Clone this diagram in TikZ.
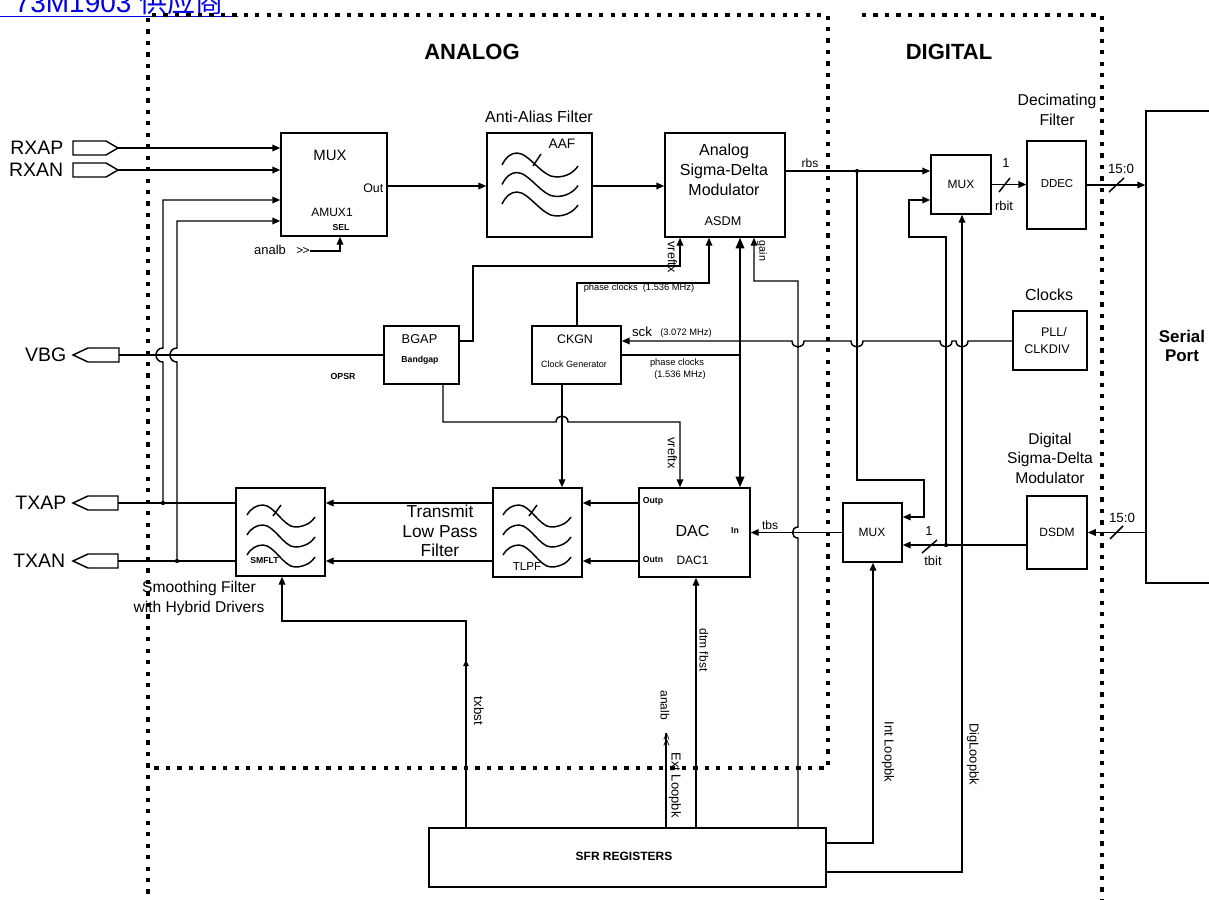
\documentclass[tikz,border=0pt]{standalone}
\usepackage{fontspec}
\setmainfont{Liberation Sans}
\newfontfamily\cjk{Noto Sans CJK SC}
\usetikzlibrary{arrows.meta}
\definecolor{linkblue}{RGB}{0,0,230}
\newcommand\myfs[2]{\fontsize{#1}{#2}\selectfont}
\newcommand\filtA[2]{%
  \begin{scope}[shift={(#1,#2)}]
    \foreach \k in {0,1,2}{%
      \begin{scope}[shift={(0,\k*19.5)}]
        \draw (0,0) .. controls (4,-8) and (9,-12) .. (15,-12) .. controls (27,-12) and (40,12) .. (54,12) .. controls (65,12) and (72,7) .. (76,1);
      \end{scope}}
    \draw (31,1) -- (39,-11);
  \end{scope}}
\newcommand\filtB[2]{%
  \begin{scope}[shift={(#1,#2)}]
    \foreach \k in {0,1,2}{%
      \begin{scope}[shift={(0,\k*20)}]
        \draw (0,0) .. controls (4,-7) and (10,-10) .. (16,-10) .. controls (27,-10) and (37,12) .. (48,12) .. controls (58,12) and (65,7) .. (68,2);
      \end{scope}}
    \draw (26,1) -- (34,-10);
  \end{scope}}
\tikzset{
  bx/.style n args={2}{draw, line width=1.1pt, minimum width=#1*0.75pt, minimum height=#2*0.75pt, inner sep=0pt},
  arr/.style={-{Triangle[length=6pt,width=5pt]}},
  barr/.style={-{Triangle[length=8pt,width=6.5pt]}},
  sarr/.style={-{Triangle[length=4.5pt,width=4pt]}},
  dots/.style={line width=2.6pt, dash pattern=on 3.2pt off 5.4pt},
  lbl/.style={inner sep=0pt},
  rot/.style={inner sep=0pt, rotate=-90},
  port/.style={line width=1.1pt}
}
\begin{document}
\begin{tikzpicture}[x=0.75pt,y=-0.75pt,line width=1.1pt]
\useasboundingbox (0,0) rectangle (1209,899);

% header link (cut off at the top edge, as in the reference)
\node[anchor=base west, inner sep=0pt, text=linkblue, font=\myfs{21}{21}] (hdr) at (14,13) {73M1903 {\cjk 供应商}};
\draw[linkblue, line width=1.4pt] (0,16.5) -- (238,16.5);

% region borders
\draw[dots] (148,18) -- (148,899);
\draw[dots] (152,15) -- (828,15) -- (828,768) -- (151,768);
\draw[dots] (862,15) -- (1102,15) -- (1102,899);
\node[lbl, font=\bfseries\myfs{16.5}{17}] (analog) at (472,52) {ANALOG};
\node[lbl, font=\bfseries\myfs{16.5}{17}] (digital) at (949,52) {DIGITAL};

% ports
\coordinate (rxap) at (118,148);
\coordinate (rxan) at (118,170);
\coordinate (vbg) at (119,355);
\coordinate (txap) at (118,503);
\coordinate (txan) at (118,561);
\draw[port] (73,141) -- (106,141) -- (rxap) -- (106,155) -- (73,155) -- cycle;
\draw[port] (73,163) -- (106,163) -- (rxan) -- (106,177) -- (73,177) -- cycle;
\draw[port] (73,355) -- (88,348) -- (119,348) -- (vbg) -- (119,362) -- (88,362) -- cycle;
\draw[port] (73,503) -- (88,496) -- (118,496) -- (txap) -- (118,510) -- (88,510) -- cycle;
\draw[port] (73,561) -- (88,554) -- (118,554) -- (txan) -- (118,568) -- (88,568) -- cycle;
\node[lbl, anchor=east, font=\myfs{14.6}{15}] (lrxap) at (64,148) {RXAP};
\node[lbl, anchor=east, font=\myfs{14.6}{15}] (lrxan) at (64,170) {RXAN};
\node[lbl, anchor=east, font=\myfs{14.6}{15}] (lvbg) at (67,355) {VBG};
\node[lbl, anchor=east, font=\myfs{14.6}{15}] (ltxap) at (67,503) {TXAP};
\node[lbl, anchor=east, font=\myfs{14.6}{15}] (ltxan) at (66,561) {TXAN};

% boxes
\node[bx={106}{103}] (mux1) at (334,184.5) {};
\node[bx={105}{104}] (aaf) at (539.5,185) {};
\node[bx={120}{104}] (asdm) at (725,185) {};
\node[bx={60}{59}] (mux2) at (961,184.5) {};
\node[bx={59}{88}] (ddec) at (1056.5,185) {};
\node[bx={68}{472}] (serial) at (1180,347) {};
\node[bx={74}{59}] (pll) at (1050,340.5) {};
\node[bx={75}{58}] (bgap) at (421.5,355) {};
\node[bx={89}{58}] (ckgn) at (576.5,355) {};
\node[bx={89}{88}] (smflt) at (280.5,532) {};
\node[bx={89}{89}] (tlpf) at (537.5,532.5) {};
\node[bx={111}{89}] (dac) at (694.5,532.5) {};
\node[bx={59}{59}] (mux3) at (872.5,532.5) {};
\node[bx={60}{73}] (dsdm) at (1057,532.5) {};
\node[bx={397}{59}] (sfr) at (627.5,857.5) {};

% filter symbols
\filtA{502}{165}
\filtB{247}{515}
\filtB{503}{515}

% box texts
\node[lbl, font=\myfs{11.2}{12}] at (330,155) {MUX};
\node[lbl, font=\myfs{9}{10}] at (332,212) {AMUX1};
\node[lbl, font=\bfseries\myfs{6.5}{7}] at (341,228) {SEL};
\node[lbl, anchor=east, font=\myfs{9.3}{10}] at (384,188) {Out};
\node[lbl, font=\myfs{12}{15}] at (539,117) {Anti-Alias Filter};
\node[lbl, font=\myfs{10.3}{11}] at (562,144) {AAF};
\node[lbl, font=\myfs{12}{15}, align=center] at (724,170) {Analog\\Sigma-Delta\\Modulator};
\node[lbl, font=\myfs{9.5}{10}] at (723,221) {ASDM};
\node[lbl, font=\myfs{9}{10}] at (961,184) {MUX};
\node[lbl, font=\myfs{8.6}{9}] at (1057,184) {DDEC};
\node[lbl, font=\myfs{11.8}{15}, align=center] at (1057,110) {Decimating\\Filter};
\node[lbl, font=\myfs{12}{13}] at (1049,295) {Clocks};
\node[lbl, font=\myfs{9.4}{10}] at (1054,332) {PLL/};
\node[lbl, font=\myfs{9.4}{10}] at (1047,349) {CLKDIV};
\node[lbl, font=\bfseries\myfs{12.7}{14.25}, align=center] at (1182,346) {Serial\\Port};
\node[lbl, font=\myfs{9.6}{10}] at (419.5,339) {BGAP};
\node[lbl, font=\bfseries\myfs{6.5}{7}] at (420,360) {Bandgap};
\node[lbl, font=\myfs{9.3}{10}] at (575,339) {CKGN};
\node[lbl, font=\myfs{6.8}{7}] at (574,364) {Clock Generator};
\node[lbl, font=\bfseries\myfs{6.6}{7}] at (343,376) {OPSR};
\node[lbl, font=\bfseries\myfs{6.5}{7}] at (264.5,561) {SMFLT};
\node[lbl, font=\myfs{8.7}{9}] at (527,567) {TLPF};
\node[lbl, font=\myfs{13}{14.6}, align=center] at (440,531) {Transmit\\Low Pass\\Filter};
\node[lbl, font=\myfs{11.7}{15}, align=center] at (199,598) {Smoothing Filter\\with Hybrid Drivers};
\node[lbl, font=\bfseries\myfs{6.5}{7}] at (653,501) {Outp};
\node[lbl, font=\bfseries\myfs{6.5}{7}] at (653,560) {Outn};
\node[lbl, font=\myfs{12}{13}] at (692.5,531) {DAC};
\node[lbl, font=\bfseries\myfs{6.5}{7}] at (735,531) {In};
\node[lbl, font=\myfs{9}{10}] at (692.5,560) {DAC1};
\node[lbl, font=\myfs{9}{10}] at (872,532) {MUX};
\node[lbl, font=\myfs{9}{10}] at (1057,532) {DSDM};
\node[lbl, font=\myfs{11.7}{14.6}, align=center] at (1050,458) {Digital\\Sigma-Delta\\Modulator};
\node[lbl, font=\bfseries\myfs{9}{10}] at (624,856) {SFR REGISTERS};

% connectors: MUX1 inputs
\draw[arr] (rxap) -- (rxap -| mux1.west);
\draw[arr] (rxan) -- (rxan -| mux1.west);
\draw[arr] (163,503) -- (163,362) .. controls (153.7,362) and (153.7,348) .. (163,348) -- (163,200) -- (mux1.west |- 0,200);
\draw[arr] (177,561) -- (177,362) .. controls (167.7,362) and (167.7,348) .. (177,348) -- (177,221) -- (mux1.west |- 0,221);
\fill (163,503) circle[radius=1.6pt];
\fill (177,561) circle[radius=1.6pt];
\draw (vbg) -- (vbg -| bgap.west);
\draw (txap) -- (txap -| smflt.west);
\draw (txan) -- (txan -| smflt.west);

% analb select
\node[lbl, font=\myfs{9.7}{10}] at (270,250) {analb};
\node[lbl, font=\myfs{9}{10}] (chev1) at (303,251) {>\kern-0.6pt>};
\draw[arr] (chev1.east) -- (340,251) -- (mux1.south -| 340,0);

% receive path
\draw[arr] (mux1.east |- 0,186) -- (aaf.west |- 0,186);
\draw[arr] (aaf.east |- 0,186) -- (asdm.west |- 0,186);
\draw[arr] (asdm.east |- 0,171) -- (mux2.west |- 0,171);
\node[lbl, font=\myfs{9}{10}] at (810,163) {rbs};
\fill (857,171) circle[radius=1.6pt];
\draw[arr] (857,171) -- (857,480) -- (924,480) -- (924,517) -- (mux3.east |- 0,517);
\draw[arr] (mux2.east) -- (mux2.east -| ddec.west);
\draw (999,192) -- (1010,178);
\node[lbl, font=\myfs{9.7}{10}] at (1006,163) {1};
\node[lbl, font=\myfs{9.7}{10}] at (1004,206) {rbit};
\draw[arr] (ddec.east) -- (ddec.east -| serial.west);
\draw (1109,192) -- (1124,178);
\node[lbl, font=\myfs{10}{11}] at (1121,169) {15:0};

% clocks
\draw[arr] (pll.west |- 0,341) -- (968,341) .. controls (968,349) and (956,349) .. (956,341) -- (952,341) .. controls (952,349) and (940,349) .. (940,341) -- (863,341) .. controls (863,349) and (851,349) .. (851,341) -- (804,341) .. controls (804,349) and (792,349) .. (792,341) -- (ckgn.east |- 0,341);
\node[lbl, font=\myfs{10}{11}] at (642,332) {sck};
\node[lbl, font=\myfs{7}{8}] at (686,333) {(3.072 MHz)};
\draw[arr] (ckgn.north -| 577,0) -- (577,283) -- (709,283) -- (asdm.south -| 709,0);
\node[lbl, font=\myfs{7}{8}] at (639,288) {phase clocks\ \ (1.536 MHz)};
\draw (ckgn.east |- 0,355) -- (740,355);
\draw[barr] (740,355) -- (asdm.south -| 740,0);
\draw[barr] (740,355) -- (dac.north -| 740,0);
\node[lbl, font=\myfs{7}{8}] at (677,363) {phase clocks};
\node[lbl, font=\myfs{7}{8}] at (680,375) {(1.536 MHz)};

% references
\draw[arr] (bgap.east |- 0,341) -- (473,341) -- (473,266) -- (680,266) -- (asdm.south -| 680,0);
\node[rot, font=\myfs{9.5}{10}] at (672.5,257) {vreftx};
\draw[arr] (bgap.south -| 443,0) -- (443,422) -- (556,422) .. controls (556,414) and (568,414) .. (568,422) -- (680,422) -- (dac.north -| 680,0);
\node[rot, font=\myfs{9.5}{10}] at (672.5,453) {vreftx};
\draw[arr] (ckgn.south -| 562,0) -- (tlpf.north -| 562,0);

% gain
\draw[arr] (sfr.north -| 798,0) -- (798,538) .. controls (790.7,538) and (790.7,527) .. (798,527) -- (798,281) -- (754,281) -- (asdm.south -| 754,0);
\node[rot, font=\myfs{8}{9}] at (762,251) {gain};

% transmit path
\draw[arr] (tlpf.west |- 0,503) -- (smflt.east |- 0,503);
\draw[arr] (tlpf.west |- 0,561) -- (smflt.east |- 0,561);
\draw[arr] (dac.west |- 0,503) -- (tlpf.east |- 0,503);
\draw[arr] (dac.west |- 0,561) -- (tlpf.east |- 0,561);
\draw[arr] (mux3.west) -- (dac.east);
\node[lbl, font=\myfs{9}{10}] at (770,525) {tbs};
\draw[arr] (dsdm.west |- 0,545) -- (mux3.east |- 0,545);
\draw (922,553) -- (937,540);
\node[lbl, font=\myfs{9.7}{10}] at (929,531) {1};
\node[lbl, font=\myfs{9.7}{10}] at (933,561) {tbit};
\fill (946,545) circle[radius=1.6pt];
\draw[arr] (946,545) -- (946,237) -- (909,237) -- (909,200) -- (mux2.west |- 0,200);
\draw[arr] (serial.west |- dsdm.east) -- (dsdm.east);
\draw (1110,539) -- (1123,526);
\node[lbl, font=\myfs{10}{11}] at (1122,518) {15:0};

% SFR controls
\draw[arr] (sfr.north -| 466,0) -- (466,621) -- (282,621) -- (smflt.south -| 282,0);
\draw[sarr] (466,672) -- (466,660);
\node[rot, font=\myfs{10}{11}] at (479,711) {txbst};
\node[rot, font=\myfs{9}{10}] at (665,705) {analb};
\node[rot, font=\myfs{9}{10}] (chev2) at (666,740) {<\kern-0.6pt<};
\draw (sfr.north -| 666,0) -- (chev2.west);
\node[rot, font=\myfs{9.75}{10}] at (675,785) {Ext Loopbk};
\draw[arr] (sfr.north -| 696,0) -- (dac.south -| 696,0);
\node[rot, font=\myfs{9}{10}] at (704,650) {dtm fbst};
\draw[arr] (sfr.east |- 0,843) -- (873,843) -- (mux3.south -| 873,0);
\node[rot, font=\myfs{9.8}{10}] at (888,752) {Int Loopbk};
\draw[arr] (sfr.east |- 0,872) -- (962,872) -- (mux2.south -| 962,0);
\node[rot, font=\myfs{9.7}{10}] at (973,754) {DigLoopbk};
\end{tikzpicture}
\end{document}
